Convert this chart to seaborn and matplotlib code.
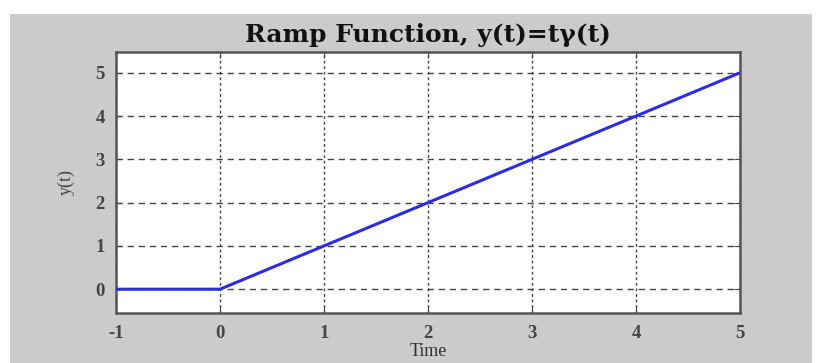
import matplotlib
matplotlib.use("Agg")
import matplotlib.pyplot as plt
import seaborn as sns
import pandas as pd
from matplotlib.patches import Rectangle

t_values = [-1, 0, 5]
y_values = [0, 0, 5]
x_ticks = [-1, 0, 1, 2, 3, 4, 5]
y_ticks = [0, 1, 2, 3, 4, 5]

sns.set_style("white")
plt.rcParams['font.family'] = ['Liberation Serif', 'DejaVu Serif']

W, H = 816, 363
fig = plt.figure(figsize=(W / 100, H / 100), dpi=100, facecolor="white")
fig.patches.append(Rectangle((10 / W, 0), (812 - 10) / W, (H - 14) / H,
                             transform=fig.transFigure, facecolor="#cbcbcb",
                             edgecolor="none", zorder=-10))
ax = fig.add_axes([116 / W, (H - 313) / H, (740 - 116) / W, (313 - 52) / H])
ax.set_zorder(5)
ax.set_facecolor("white")

df = pd.DataFrame({"Time": t_values, "y": y_values})
sns.lineplot(data=df, x="Time", y="y", ax=ax, color="#2c2ce0", linewidth=2.2, zorder=3)

ax.set_xlim(-1, 5)
ax.set_ylim(-0.55, 5.48)
ax.set_xticks(x_ticks)
ax.set_yticks(y_ticks)
ax.set_xticklabels([str(v) for v in x_ticks])
ax.set_yticklabels([str(v) for v in y_ticks])
ax.tick_params(direction="in", length=4, colors="#444444", labelsize=13.5,
               labelcolor="#444444", top=True, right=True, bottom=True, left=True)
ax.tick_params(axis="x", pad=9)
ax.tick_params(axis="y", pad=8)
for lab in ax.get_xticklabels() + ax.get_yticklabels():
    lab.set_fontweight("bold")
ax.xaxis.grid(True, color="#444444", linestyle=(0, (2, 2)), linewidth=1.0)
ax.yaxis.grid(True, color="#444444", linestyle=(0, (4.5, 3.5)), linewidth=1.0)
for s in ax.spines.values():
    s.set_color("#555555")
    s.set_linewidth(1.8)

ax.set_title("Ramp Function, y(t)=tγ(t)", fontsize=18, fontweight="bold", pad=7,
             color="#111111", family=["DejaVu Serif"])
ax.set_xlabel("Time", fontsize=13, color="#333333", labelpad=0)
ax.set_ylabel("y(t)", fontsize=13, color="#444444", labelpad=15)

fig.savefig("out.png", dpi=100, facecolor=fig.get_facecolor())
